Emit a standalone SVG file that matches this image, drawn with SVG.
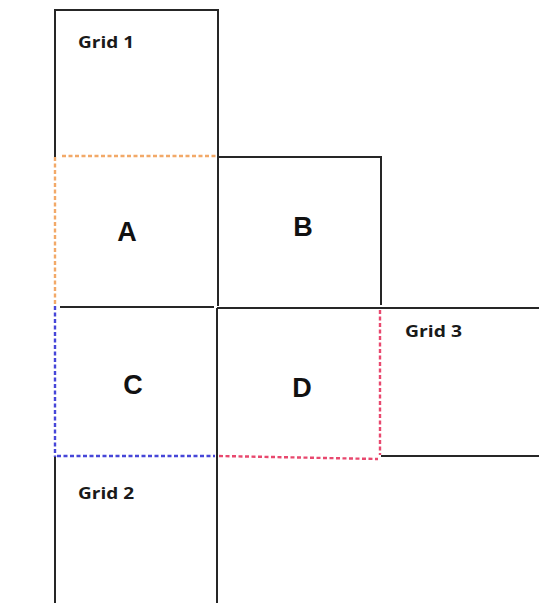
<svg xmlns="http://www.w3.org/2000/svg" width="539" height="603" viewBox="0 0 539 603">
<style>
.s{stroke:#262626;stroke-width:2;fill:none}
.o{stroke:#f2a968;stroke-width:2.4;stroke-dasharray:4 2.5;fill:none}
.b{stroke:#4646d8;stroke-width:2.4;stroke-dasharray:4 2.5;fill:none}
.r{stroke:#e8486e;stroke-width:2.4;stroke-dasharray:4 2.5;fill:none}
.g{font-family:"Open Sans","Liberation Sans",sans-serif;font-weight:bold;font-size:16.5px;fill:#1a1a1a}
.l{font-family:"Liberation Sans",Arial,sans-serif;font-weight:bold;font-size:27px;fill:#111;text-anchor:middle}
</style>
<rect width="539" height="603" fill="#fff"/>
<g id="connectors">
<path class="s" d="M55,157 V10 H218 V306"/>
<path class="s" d="M218,157 H381 V305"/>
<path class="s" d="M60,307 H214"/>
<path class="s" d="M217,308 H539"/>
<path class="s" d="M217,308 V603"/>
<path class="s" d="M381,456 H539"/>
<path class="s" d="M55,457 V603"/>
</g>
<g id="A">
<path class="o" d="M62,156 H216 M55,157 V305"/>
<text class="l" x="127" y="241">A</text>
</g>
<g id="B">
<text class="l" x="303" y="236">B</text>
</g>
<g id="C">
<path class="b" d="M55,306 V457 M57,456 H215"/>
<text class="l" x="133" y="394">C</text>
</g>
<g id="D">
<path class="r" d="M380,310 V455 M219,456 L378,459"/>
<text class="l" x="302" y="397">D</text>
</g>
<g id="grid1"><text class="g" x="78" y="48" textLength="56" lengthAdjust="spacingAndGlyphs">Grid 1</text></g>
<g id="grid2"><text class="g" x="78" y="499" textLength="56" lengthAdjust="spacingAndGlyphs">Grid 2</text></g>
<g id="grid3"><text class="g" x="405" y="337" textLength="57" lengthAdjust="spacingAndGlyphs">Grid 3</text></g>
</svg>
